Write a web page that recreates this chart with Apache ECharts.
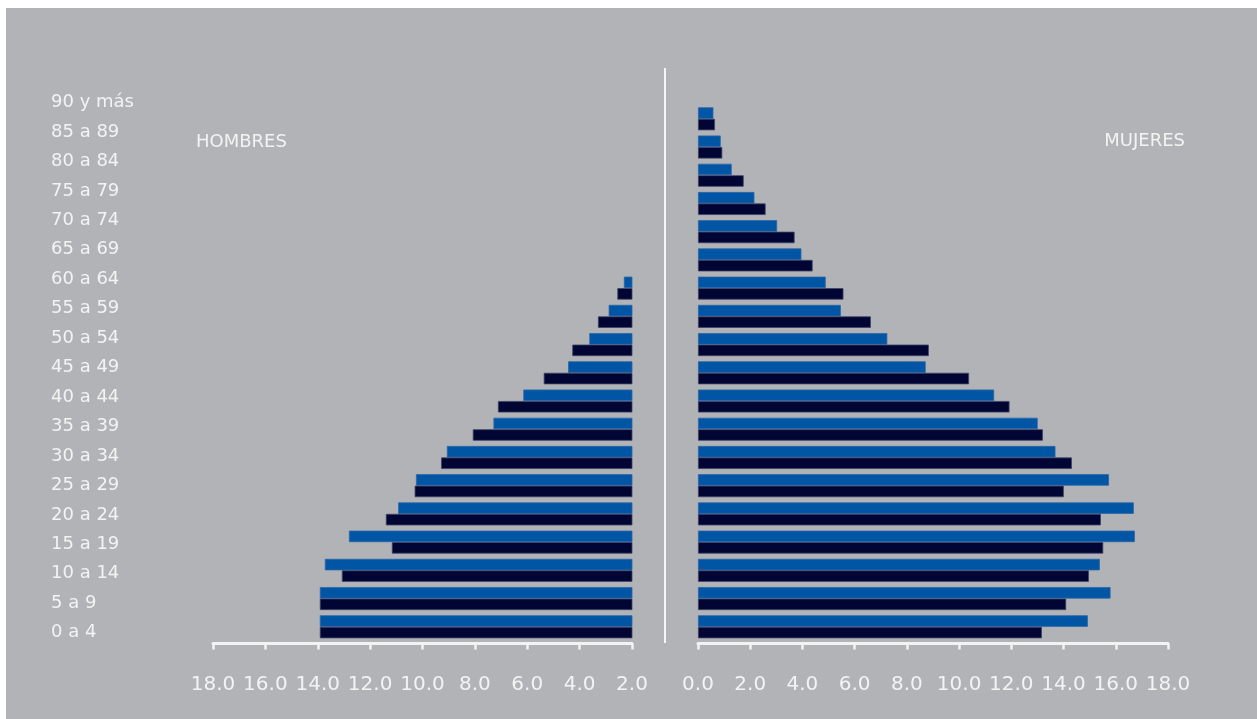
<!DOCTYPE html>
<html>
<head>
<meta charset="utf-8">
<title>Pirámide de población</title>
<script src="https://cdn.jsdelivr.net/npm/echarts@6/dist/echarts.min.js"></script>
<style>
  html, body { margin: 0; padding: 0; background: #ffffff; }
  #chart { width: 1257px; height: 719px; }
</style>
</head>
<body>
<div id="chart"></div>
<script>
// Age groups, youngest first (drawn bottom to top)
const ageGroups = ['0 a 4', '5 a 9', '10 a 14', '15 a 19', '20 a 24', '25 a 29', '30 a 34',
  '35 a 39', '40 a 44', '45 a 49', '50 a 54', '55 a 59', '60 a 64', '65 a 69', '70 a 74',
  '75 a 79', '80 a 84', '85 a 89', '90 y más'];

// Men (left side, axis runs from 2.0 outward)
const hombresA = [13.92, 13.92, 13.73, 12.81, 10.93, 10.25, 9.07, 7.29, 6.15, 4.44, 3.63, 2.89, 2.31,
  null, null, null, null, null, null];
const hombresB = [13.92, 13.92, 13.08, 11.17, 11.40, 10.30, 9.29, 8.08, 7.12, 5.37, 4.28, 3.30, 2.56,
  null, null, null, null, null, null];

// Women (right side)
const mujeresA = [14.93, 15.80, 15.39, 16.73, 16.69, 15.74, 13.69, 13.01, 11.34, 8.72, 7.25, 5.47, 4.89,
  3.96, 3.03, 2.16, 1.29, 0.87, 0.59];
const mujeresB = [13.17, 14.10, 14.97, 15.52, 15.43, 14.01, 14.32, 13.21, 11.93, 10.38, 8.84, 6.62, 5.57,
  4.39, 3.70, 2.59, 1.75, 0.93, 0.65];

const FONT = 'DejaVu Sans';
const TEXT = '#f3f3f3';
const BLUE = '#0056a4';
const NAVY = '#000533';

const chart = echarts.init(document.getElementById('chart'), null, { renderer: 'canvas' });

const valueAxisCommon = {
  type: 'value',
  interval: 2,
  offset: 2.5,
  splitLine: { show: false },
  axisLine: { show: true, lineStyle: { color: TEXT, width: 3 } },
  axisTick: { show: true, length: 6, lineStyle: { color: TEXT, width: 2.5 } },
  axisLabel: {
    color: TEXT, fontFamily: FONT, fontSize: 20, margin: 31.5,
    formatter: v => v.toFixed(1)
  }
};

const barCommon = {
  type: 'bar',
  barWidth: 11.5,
  barGap: '0%',
  clip: true,
  silent: true
};

chart.setOption({
  backgroundColor: '#ffffff',
  animation: false,
  grid: [
    { left: 213, width: 419, top: 104.7, bottom: 78.1 },   // men
    { left: 698, width: 470, top: 104.7, bottom: 78.1 },   // women
    { left: 50, width: 10, top: 87.8, height: 559.6 }      // age labels
  ],
  xAxis: [
    Object.assign({}, valueAxisCommon, { gridIndex: 0, min: 2, max: 18, inverse: true }),
    Object.assign({}, valueAxisCommon, { gridIndex: 1, min: 0, max: 18 }),
    { type: 'value', gridIndex: 2, show: false }
  ],
  yAxis: [
    { type: 'category', gridIndex: 0, data: ageGroups, show: false },
    { type: 'category', gridIndex: 1, data: ageGroups, show: false },
    {
      type: 'category', gridIndex: 2, data: ageGroups,
      axisLine: { show: false }, axisTick: { show: false },
      axisLabel: {
        inside: true, align: 'left', margin: 1,
        color: TEXT, fontFamily: FONT, fontSize: 18
      }
    }
  ],
  series: [
    Object.assign({}, barCommon, {
      name: 'Hombres A', xAxisIndex: 0, yAxisIndex: 0, data: hombresA,
      itemStyle: { color: BLUE, borderColor: '#2c66a8', borderWidth: 0.8 }
    }),
    Object.assign({}, barCommon, {
      name: 'Hombres B', xAxisIndex: 0, yAxisIndex: 0, data: hombresB,
      itemStyle: { color: NAVY, borderColor: '#3e4468', borderWidth: 0.8 }
    }),
    Object.assign({}, barCommon, {
      name: 'Mujeres A', xAxisIndex: 1, yAxisIndex: 1, data: mujeresA,
      itemStyle: { color: BLUE, borderColor: '#2c66a8', borderWidth: 0.8 }
    }),
    Object.assign({}, barCommon, {
      name: 'Mujeres B', xAxisIndex: 1, yAxisIndex: 1, data: mujeresB,
      itemStyle: { color: NAVY, borderColor: '#3e4468', borderWidth: 0.8 }
    })
  ],
  graphic: [
    {
      type: 'rect', z: -10, silent: true,
      shape: { x: 6, y: 8, width: 1251, height: 711 },
      style: { fill: '#b2b3b6' }
    },
    {
      type: 'line', silent: true,
      shape: { x1: 665, y1: 68, x2: 665, y2: 643 },
      style: { stroke: '#f5f5f5', lineWidth: 2 }
    },
    {
      type: 'text', silent: true, x: 196, y: 142,
      style: { text: 'HOMBRES', fill: TEXT, font: '18px "DejaVu Sans"', align: 'left', verticalAlign: 'middle' }
    },
    {
      type: 'text', silent: true, x: 1185, y: 141,
      style: { text: 'MUJERES', fill: TEXT, font: '18px "DejaVu Sans"', align: 'right', verticalAlign: 'middle' }
    }
  ]
});
</script>
</body>
</html>
